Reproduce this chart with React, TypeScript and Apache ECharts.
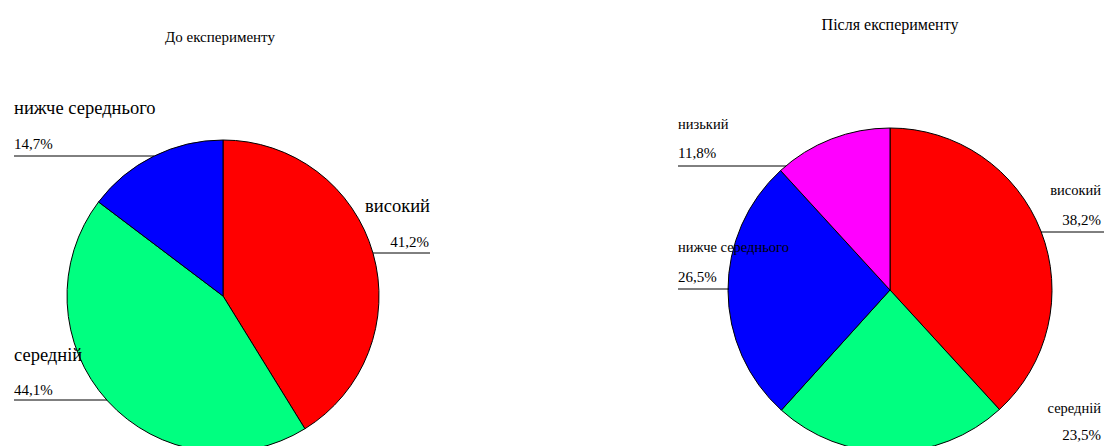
import React, { useEffect, useRef } from "react";
import * as echarts from "echarts";

const leftTitle = "До експерименту";
const rightTitle = "Після експерименту";
const leftCategories = ["високий", "середній", "нижче середнього"];
const leftValues = [41.2, 44.1, 14.7];
const rightCategories = ["високий", "середній", "нижче середнього", "низький"];
const rightValues = [38.2, 23.5, 26.5, 11.8];
const leftColors = ["#FF0000", "#00FF80", "#0000FF"];
const rightColors = ["#FF0000", "#00FF80", "#0000FF", "#FF00FF"];

const FONT = "'Liberation Serif', 'Times New Roman', serif";
const fmt = (v: number) => v.toFixed(1).replace(".", ",") + "%";

// label placements (style only)
const leftLabelPos: any[] = [
  { nx: 430, ny: 206, px: 429, py: 242, align: "right", lx1: 373, lx2: 430, ly: 253, ns: 18.5 },
  { nx: 14, ny: 355, px: 14, py: 390, align: "left", lx1: 14, lx2: 107, ly: 400, ns: 18.5 },
  { nx: 14, ny: 108, px: 14, py: 144, align: "left", lx1: 14, lx2: 154, ly: 156, ns: 18.5 },
];
const rightLabelPos: any[] = [
  { nx: 1101, ny: 190, px: 1101, py: 220, align: "right", lx1: 1041, lx2: 1104, ly: 232, ns: 14.5 },
  { nx: 1101, ny: 408, px: 1101, py: 435, align: "right", lx1: 0, lx2: 0, ly: -1, ns: 14.5 },
  { nx: 678, ny: 247, px: 678, py: 277, align: "left", lx1: 678, lx2: 729, ly: 289, ns: 14.5 },
  { nx: 678, ny: 124, px: 678, py: 153, align: "left", lx1: 678, lx2: 786, ly: 166, ns: 14.5 },
];

function labelGraphics(cats: string[], vals: number[], pos: any[]) {
  const out: any[] = [];
  cats.forEach((c, i) => {
    const p = pos[i];
    out.push({
      type: "text",
      x: p.nx,
      y: p.ny,
      z: 100,
      style: { text: c, font: `${p.ns}px ${FONT}`, fill: "#000", align: p.align, verticalAlign: "middle" },
    });
    out.push({
      type: "text",
      x: p.px,
      y: p.py,
      z: 100,
      style: { text: fmt(vals[i]), font: `15px ${FONT}`, fill: "#000", align: p.align, verticalAlign: "middle" },
    });
    if (p.ly > 0) {
      out.push({
        type: "line",
        z: 100,
        shape: { x1: p.lx1, y1: p.ly, x2: p.lx2, y2: p.ly },
        style: { stroke: "#000", lineWidth: 1 },
      });
    }
  });
  return out;
}

export default function App() {
  const ref = useRef<HTMLDivElement>(null);
  useEffect(() => {
    document.body.style.margin = "0";
    const chart = echarts.init(ref.current!, null, { renderer: "svg" });
    chart.setOption({
      animation: false,
      backgroundColor: "#fff",
      title: [
        { text: leftTitle, left: 215, top: 24, textAlign: "center", textStyle: { fontFamily: FONT, fontSize: 15, fontWeight: "normal", color: "#000" } },
        { text: rightTitle, left: 885, top: 11, textAlign: "center", textStyle: { fontFamily: FONT, fontSize: 16, fontWeight: "normal", color: "#000" } },
      ],
      series: [
        {
          type: "pie",
          center: [223, 296],
          radius: 156,
          startAngle: 90,
          clockwise: true,
          label: { show: false },
          labelLine: { show: false },
          emphasis: { disabled: true },
          itemStyle: { borderColor: "#000", borderWidth: 1 },
          data: leftCategories.map((c, i) => ({ name: c, value: leftValues[i], itemStyle: { color: leftColors[i] } })),
        },
        {
          type: "pie",
          center: [890, 290],
          radius: 162,
          startAngle: 90,
          clockwise: true,
          label: { show: false },
          labelLine: { show: false },
          emphasis: { disabled: true },
          itemStyle: { borderColor: "#000", borderWidth: 1 },
          data: rightCategories.map((c, i) => ({ name: c, value: rightValues[i], itemStyle: { color: rightColors[i] } })),
        },
      ],
      graphic: [
        ...labelGraphics(leftCategories, leftValues, leftLabelPos),
        ...labelGraphics(rightCategories, rightValues, rightLabelPos),
      ],
    });
    return () => chart.dispose();
  }, []);
  return <div ref={ref} style={{ width: 1104, height: 446 }} />;
}
